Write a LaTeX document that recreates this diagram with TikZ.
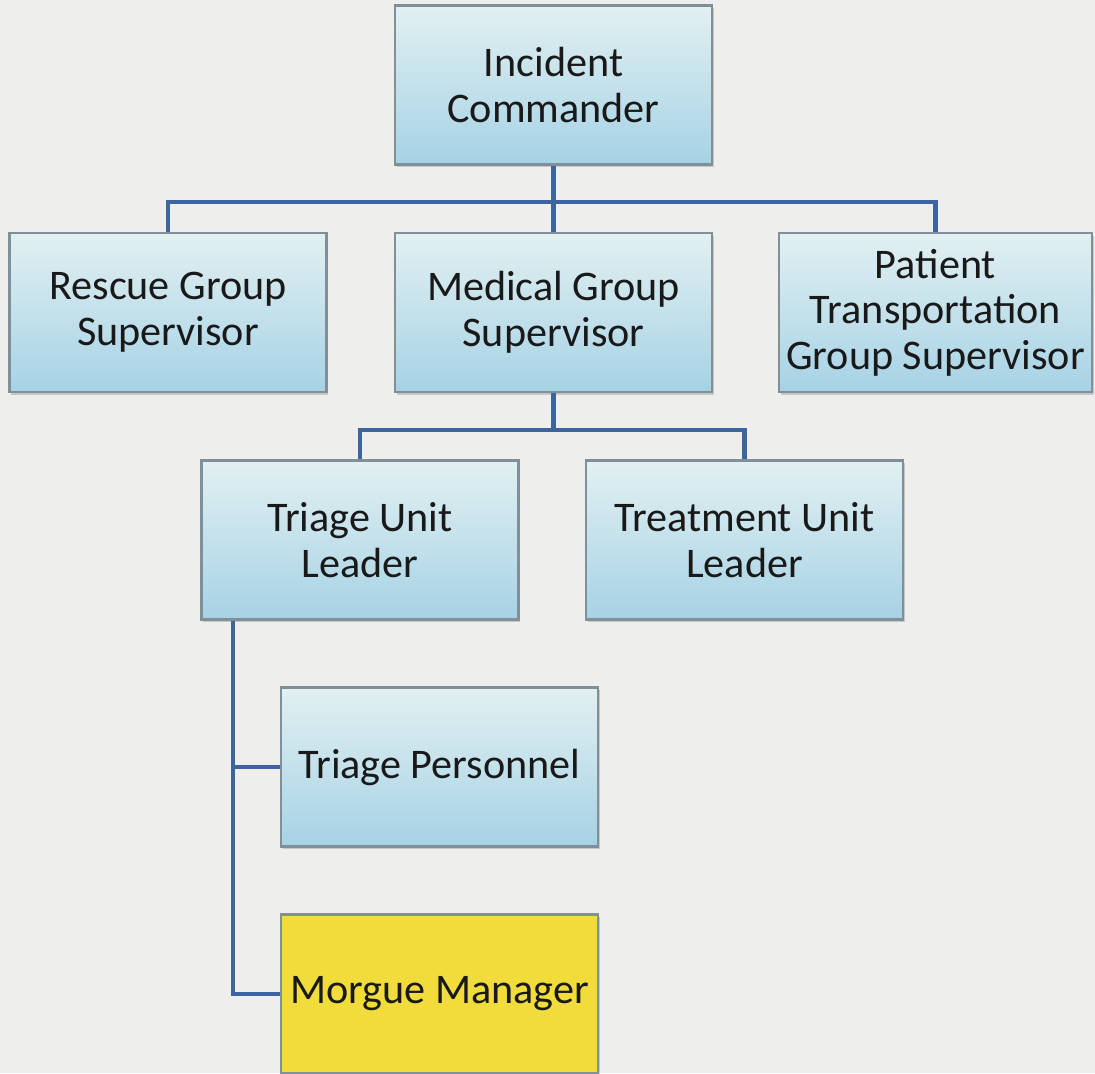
\documentclass[tikz,border=0pt]{standalone}
\usepackage{fontspec}
\setmainfont{Carlito}
\usetikzlibrary{shadows}

\definecolor{paper}{HTML}{EEEEEC}
\definecolor{boxtop}{HTML}{E2F0F1}
\definecolor{boxbot}{HTML}{A6D2E5}
\definecolor{boxline}{HTML}{7F9098}
\definecolor{linkblue}{HTML}{3E64A0}
\definecolor{morgueyellow}{HTML}{F2DC3C}

\begin{document}
\begin{tikzpicture}[rolebox/.style={draw=boxline, line width=0.6pt, top color=boxtop, bottom color=boxbot,
    minimum width=3.17cm, minimum height=1.59cm, align=center, text=black!90, inner sep=0pt,
    font=\fontsize{12}{13}\selectfont,
    drop shadow={shadow xshift=0.5pt, shadow yshift=-0.8pt, opacity=0.35}},
  link/.style={draw=linkblue, line width=1.2pt}]

  % paper
  \fill[paper] (0,0) rectangle (10.95,-10.73);
  \useasboundingbox (0,0) rectangle (10.95,-10.73);

  \node[rolebox] (ic) at (5.535,-0.85) {Incident\\Commander};

  \node[rolebox] (rescue) at (1.68,-3.125) {Rescue Group\\Supervisor};
  \node[rolebox] (medical) at (5.535,-3.125) {Medical Group\\Supervisor};
  \node[rolebox, minimum width=3.13cm] (patient) at (9.355,-3.125) {Patient\\Transportation\\Group Supervisor};

  \node[rolebox] (triage) at (3.60,-5.40) {Triage Unit\\Leader};
  \node[rolebox] (treatment) at (7.445,-5.40) {Treatment Unit\\Leader};

  \node[rolebox] (personnel) at (4.395,-7.67) {Triage Personnel};
  \node[rolebox, top color=morgueyellow, bottom color=morgueyellow] (morgue) at (4.395,-9.94) {Morgue Manager};

  % buses
  \coordinate (bus1) at (5.535,-2.02);
  \coordinate (bus2) at (5.535,-4.30);
  \coordinate (tl) at ([xshift=-1.27cm]triage.south);

  \draw[link] (ic.south) -- (bus1);
  \foreach \n in {rescue,medical,patient} {
    \draw[link] (bus1) -| (\n.north);
  }

  \draw[link] (medical.south) -- (bus2);
  \foreach \n in {triage,treatment} {
    \draw[link] (bus2) -| (\n.north);
  }

  \draw[link] (tl) |- (personnel.west);
  \draw[link] (tl) |- (morgue.west);

\end{tikzpicture}
\end{document}
